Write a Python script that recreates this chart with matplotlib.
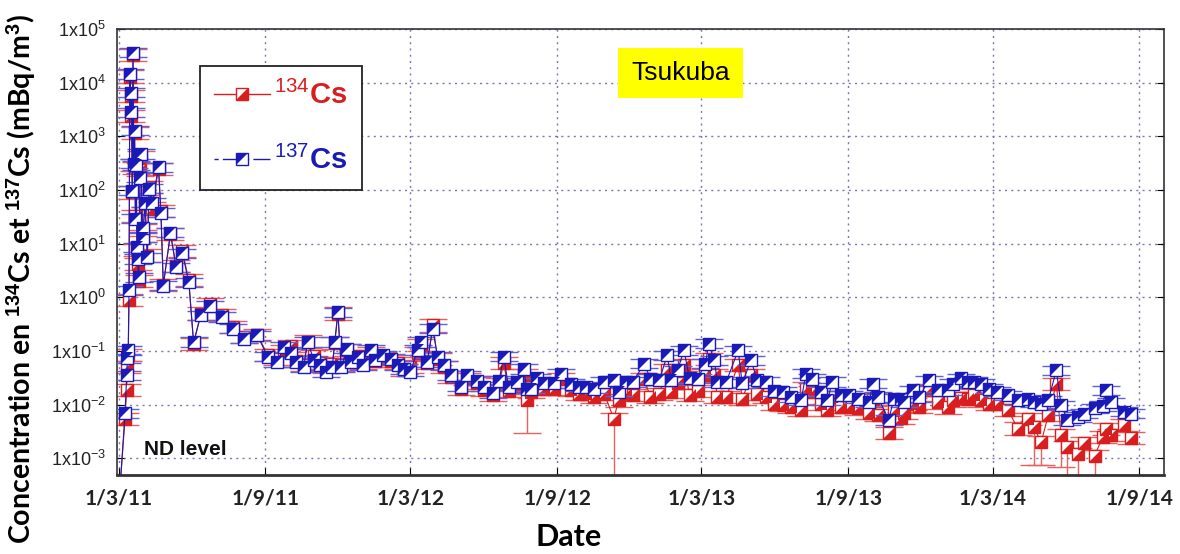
import matplotlib
matplotlib.use('Agg')
import matplotlib.pyplot as plt
from matplotlib.lines import Line2D
import numpy as np
import pandas as pd

plt.rcParams['mathtext.fontset'] = 'custom'
plt.rcParams['mathtext.rm'] = 'Liberation Sans'
plt.rcParams['mathtext.bf'] = 'Liberation Sans:bold'
plt.rcParams['mathtext.it'] = 'Liberation Sans:italic'

# days since 1 March 2011
days = [1, 8, 10, 11, 12, 13, 14, 15, 16, 17, 18, 19, 20, 21, 22, 23, 24, 25, 27, 28,
        30, 31, 33, 36, 38, 42, 50, 53, 56, 65, 72, 80, 88, 94, 103, 115, 130, 143, 157, 174,
        187, 199, 207, 216, 222, 232, 237, 245, 253, 260, 268, 271, 275, 279, 287, 291, 300, 307, 316, 322,
        332, 341, 350, 358, 366, 375, 379, 387, 394, 400, 408, 417, 429, 437, 450, 458, 470, 477, 483, 489,
        500, 508, 512, 517, 525, 533, 546, 555, 567, 577, 586, 596, 609, 621, 627, 636, 645, 659, 667, 678,
        688, 693, 701, 709, 716, 726, 736, 740, 747, 751, 762, 777, 782, 793, 801, 812, 822, 833, 843, 856,
        862, 870, 881, 889, 895, 906, 916, 927, 941, 946, 952, 966, 972, 981, 985, 996, 1004, 1016, 1027, 1040,
        1046, 1056, 1065, 1073, 1082, 1092, 1102, 1115, 1128, 1140, 1148, 1157, 1166, 1176, 1182, 1190, 1203, 1211, 1224, 1234,
        1238, 1245, 1261, 1270]

cs137 = [0.0002, 0.0069, 0.035, 0.073, 0.103, 1.35, 14500, 2800, 6500, 97, 36000, 310, 1270, 29, 290, 8.6, 5.2, 2.36, 170, 470,
         12.9, 20, 58, 5.6, 106, 58, 265, 38, 1.66, 16, 3.6, 6.6, 1.9, 0.147, 0.46, 0.70, 0.43, 0.26, 0.17, 0.195,
         0.078, 0.062, 0.119, 0.090, 0.062, 0.050, 0.147, 0.067, 0.054, 0.0405, 0.050, 0.147, 0.53, 0.050, 0.11, 0.062, 0.078, 0.054, 0.105, 0.067,
         0.083, 0.072, 0.054, 0.046, 0.041, 0.105, 0.147, 0.062, 0.26, 0.078, 0.054, 0.035, 0.0215, 0.035, 0.028, 0.0215, 0.0162, 0.028, 0.078, 0.0215,
         0.026, 0.046, 0.020, 0.020, 0.031, 0.025, 0.025, 0.038, 0.0247, 0.0215, 0.0215, 0.020, 0.0266, 0.0285, 0.0174, 0.0266, 0.0266, 0.058, 0.0306, 0.0285,
         0.083, 0.0285, 0.044, 0.103, 0.031, 0.0306, 0.058, 0.137, 0.067, 0.0266, 0.0266, 0.103, 0.025, 0.067, 0.0285, 0.0266, 0.018, 0.0174, 0.0139, 0.0121,
         0.038, 0.0306, 0.0174, 0.0121, 0.0266, 0.015, 0.015, 0.013, 0.011, 0.0247, 0.0139, 0.0052, 0.013, 0.013, 0.011, 0.0186, 0.0139, 0.0285, 0.0186, 0.0186,
         0.0247, 0.031, 0.0266, 0.0266, 0.0247, 0.020, 0.0174, 0.015, 0.0121, 0.0125, 0.011, 0.0105, 0.012, 0.044, 0.0098, 0.0052, 0.0059, 0.0068, 0.0085, 0.0095,
         0.0186, 0.011, 0.0074, 0.0068]

cs134 = [0.0002, 0.0055, 0.0187, 0.05, 0.085, 0.89, 13000, 2400, 5600, 90, 33000, 290, 1150, 33, 260, 7.5, 4.2, 2.0, 240, 410,
         14, 18, 62, 6.0, 115, 45, 250, 40, 1.7, 15, 3.9, 7.2, 2.1, 0.135, 0.50, 0.74, 0.47, 0.28, 0.18, 0.20,
         0.085, 0.07, 0.10, 0.125, 0.066, 0.056, 0.15, 0.08, 0.06, 0.05, 0.058, 0.14, 0.50, 0.055, 0.105, 0.07, 0.08, 0.06, 0.09, 0.065,
         0.075, 0.066, 0.06, 0.045, 0.05, 0.09, 0.13, 0.06, 0.30, 0.07, 0.05, 0.033, 0.020, 0.030, 0.025, 0.019, 0.015, 0.024, 0.060, 0.018,
         0.022, 0.036, 0.0121, 0.017, 0.025, 0.020, 0.020, 0.030, 0.019, 0.016, 0.016, 0.0139, 0.016, 0.0055, 0.012, 0.016, 0.015, 0.030, 0.0139, 0.016,
         0.045, 0.017, 0.025, 0.055, 0.015, 0.018, 0.035, 0.070, 0.035, 0.014, 0.0139, 0.055, 0.0127, 0.035, 0.016, 0.0139, 0.0105, 0.0100, 0.009, 0.008,
         0.020, 0.017, 0.0105, 0.008, 0.014, 0.009, 0.009, 0.0085, 0.007, 0.0125, 0.0064, 0.0030, 0.0075, 0.0057, 0.007, 0.0102, 0.009, 0.0186, 0.011, 0.0089,
         0.012, 0.0135, 0.013, 0.015, 0.012, 0.0102, 0.0102, 0.008, 0.0036, 0.0055, 0.0038, 0.0020, 0.0064, 0.0247, 0.0027, 0.0016, 0.0012, 0.0019, 0.0011, 0.0025,
         0.0035, 0.0027, 0.0042, 0.0024]

# lower ends of the long red error bars
cs134_low = {512: 0.003, 621: 0.0001, 1148: 0.00075, 1157: 0.00075, 1190: 0.0001,
             1203: 0.0001, 1224: 0.0001, 1182: 0.0007}

xticks = ['2011-03-01', '2011-09-01', '2012-03-01', '2012-09-01',
          '2013-03-01', '2013-09-01', '2014-03-01', '2014-09-01']

red = '#d81e1e'
blue = '#1a1ab8'

dates = pd.Timestamp('2011-03-01') + pd.to_timedelta(days, unit='D')


def errs(vals, f, lows):
    v = np.array(vals, dtype=float)
    lo = v - v / f
    hi = v * f - v
    for i, d in enumerate(days):
        if d in lows:
            lo[i] = v[i] - lows[d]
    return [lo, hi]


tri_lr = [(-1, -1), (1, -1), (1, 1)]
tri_ul = [(-1, -1), (-1, 1), (1, 1)]
ms = 8.5

fig = plt.figure(figsize=(11.8, 5.54), dpi=100)
ax = fig.add_axes([0.0992, 0.1426, 0.8872, 0.8051])

for vals, col, ecol, tri, f, lows, z in [
        (cs134, red, '#e86060', tri_lr, 1.3, cs134_low, 2),
        (cs137, blue, '#6060d8', tri_ul, 1.22, {}, 4)]:
    ax.errorbar(dates, vals, yerr=errs(vals, f, lows), fmt='none', ecolor=ecol,
                elinewidth=1, capsize=10, capthick=1, zorder=z)
    ax.plot(dates, vals, '-', color=col, lw=0.8, zorder=z)
    ax.plot(dates, vals, 's', ms=ms, mfc='white', mec=col, mew=1, zorder=z + 0.5)
    ax.plot(dates, vals, ls='none', marker=tri, ms=ms, color=col, mew=0, zorder=z + 0.6)

ax.set_yscale('log')
ax.set_ylim(4.9e-4, 1e5)
ax.set_xlim(pd.Timestamp('2011-02-27'), pd.Timestamp('2014-10-02'))

ax.set_yticks([10.0 ** k for k in range(-3, 6)])
ax.set_yticklabels([r'$1\mathrm{x}10^{%d}$' % k for k in range(-3, 6)],
                   fontsize=13, color='#222222')
ax.yaxis.set_minor_locator(matplotlib.ticker.NullLocator())
xt = pd.to_datetime(xticks)
ax.set_xticks(xt)
ax.set_xticklabels(['%d/%d/%d' % (d.day, d.month, d.year % 100) for d in xt],
                   fontsize=15, fontweight='bold', family='Lato', color='#222222')
ax.tick_params(axis='both', direction='in', length=5, right=True, top=False, pad=8)
ax.tick_params(axis='x', pad=10)

ax.grid(True, which='major', ls=(0, (1.5, 3)), color='#7a7ab0', lw=1)
for s in ax.spines.values():
    s.set_color('#333333')
    s.set_linewidth(1.2)
ax.spines['bottom'].set_linewidth(2)

fig.text(22 / 1180, 0.496,
         r'Concentration en $\mathbf{^{134}}$Cs et $\mathbf{^{137}}$Cs (mBq/m$\mathbf{^{3}}$)',
         rotation=90, ha='center', va='center', fontsize=20.5, fontweight='bold', family='Lato')
fig.text(0.482, 0.03, 'Date', ha='center', va='center', fontsize=22, fontweight='bold', family='Lato')

ax.text(0.538, 0.901, 'Tsukuba', transform=ax.transAxes, ha='center', va='center',
        fontsize=19, family='Liberation Sans',
        bbox=dict(boxstyle='square,pad=0.5', fc='#ffff00', ec='none'), zorder=6)
ax.text(0.026, 0.058, 'ND level', transform=ax.transAxes, ha='left', va='center',
        fontsize=15, fontweight='bold', family='Liberation Sans', color='#111111', zorder=6)

h134 = (Line2D([], [], color=red, lw=1, marker='s', ms=ms, mfc='white', mec=red),
        Line2D([], [], ls='none', marker=tri_lr, ms=ms, color=red, mew=0))
h137 = (Line2D([], [], color=blue, lw=1, ls=(0, (3, 3, 14, 2)), marker='s', ms=ms, mfc='white', mec=blue),
        Line2D([], [], ls='none', marker=tri_ul, ms=ms, color=blue, mew=0))
leg = ax.legend([h134, h137], [r'$^{134}$Cs', r'$^{137}$Cs'], loc='upper left',
                bbox_to_anchor=(0.079, 0.917), borderaxespad=0, fancybox=False, edgecolor='#222222',
                framealpha=1, handlelength=1.9, handletextpad=0.15, labelspacing=1.25,
                borderpad=0.5, prop={'size': 21, 'weight': 'bold', 'family': 'Liberation Sans'})
leg.get_frame().set_linewidth(1.3)
leg.set_zorder(7)
for t, c in zip(leg.get_texts(), [red, blue]):
    t.set_color(c)

fig.savefig('out.png', dpi=100)
